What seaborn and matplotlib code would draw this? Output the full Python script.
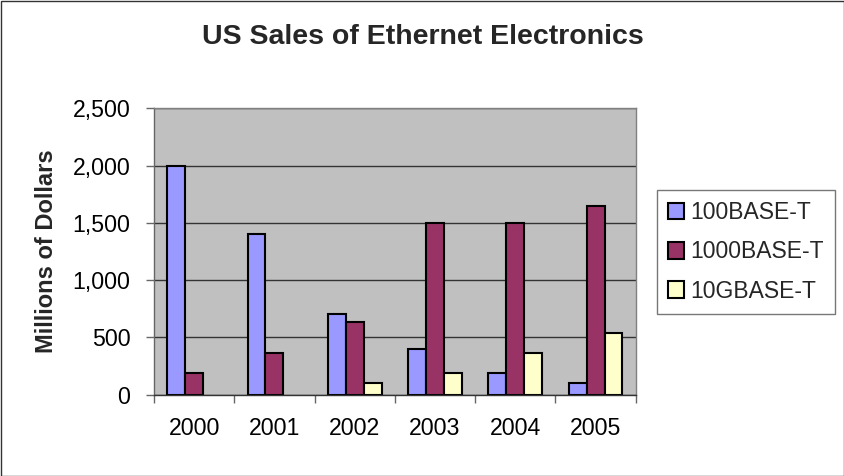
import matplotlib
matplotlib.use("Agg")
import matplotlib.pyplot as plt
import matplotlib.ticker as mticker
from matplotlib.patches import Rectangle
import seaborn as sns
import pandas as pd
import numpy as np

years = ["2000", "2001", "2002", "2003", "2004", "2005"]
series_names = ["100BASE-T", "1000BASE-T", "10GBASE-T"]
sales_100base = [2000, 1400, 700, 400, 190, 100]
sales_1000base = [190, 365, 630, 1500, 1500, 1650]
sales_10gbase = [None, None, 100, 190, 365, 540]
colors = ["#9999FF", "#993366", "#FFFFCC"]

rows = []
for name, vals in zip(series_names, [sales_100base, sales_1000base, sales_10gbase]):
    for y, v in zip(years, vals):
        rows.append({"Year": y, "Series": name, "Value": np.nan if v is None else v})
df = pd.DataFrame(rows)

sns.set_theme(style="white")
plt.rcParams["font.family"] = ["Liberation Sans", "DejaVu Sans"]

fig = plt.figure(figsize=(8.45, 4.76), dpi=100)
ax = fig.add_axes([154 / 845, 1 - 394.5 / 476, (635.7 - 154) / 845, (394.5 - 108.3) / 476])
ax.set_facecolor("#C0C0C0")

sns.barplot(data=df, x="Year", y="Value", hue="Series", hue_order=series_names,
            order=years, palette=colors,
            edgecolor="black", linewidth=1.5, width=0.67, saturation=1,
            ax=ax, legend=True)

ax.set_ylim(0, 2500)
ax.set_xlim(-0.5, 5.5)
ax.yaxis.set_major_locator(mticker.MultipleLocator(500))
ax.yaxis.set_major_formatter(mticker.FuncFormatter(lambda v, p: f"{int(v):,}"))
ax.set_axisbelow(True)
ax.yaxis.grid(True, color="#333333", linewidth=1)
ax.xaxis.grid(False)

ax.set_xticks(range(len(years)))
ax.set_xticklabels(years)
ax.set_xticks([i - 0.5 for i in range(len(years) + 1)], minor=True)
ax.tick_params(axis="x", which="major", length=0, labelsize=16.7, pad=16, colors="black")
ax.tick_params(axis="x", which="minor", length=6, width=1, color="#666666", direction="out", bottom=True)
ax.tick_params(axis="y", which="major", length=6, width=1, color="#666666", direction="out",
               left=True, labelsize=16.7, pad=11, labelcolor="black")

for side in ["top", "right"]:
    ax.spines[side].set_color("#808080")
    ax.spines[side].set_linewidth(1)
ax.spines["left"].set_color("#666666")
ax.spines["bottom"].set_color("#333333")
ax.spines["left"].set_linewidth(1)
ax.spines["bottom"].set_linewidth(1)

ax.set_xlabel("")
ax.set_ylabel("Millions of Dollars", fontsize=17, fontweight="bold")
ax.yaxis.set_label_coords((58 - 154) / (635.7 - 154), 0.5)

ax.get_legend().remove()
handles, labels = ax.get_legend_handles_labels()
leg = fig.legend(handles, labels, loc="upper left", bbox_to_anchor=(657 / 845, 1 - 190 / 476),
                 fontsize=16.5, frameon=True, fancybox=False, handlelength=0.7, handleheight=0.7,
                 handletextpad=0.25, borderpad=0.5, labelspacing=0.7, borderaxespad=0)
leg.get_frame().set_edgecolor("#555555")
leg.get_frame().set_linewidth(1)

fig.text(0.5, 1 - 44 / 476, "US Sales of Ethernet Electronics", ha="center", va="baseline",
         fontsize=20.5, fontweight="bold")

fig.patches.append(Rectangle((1.5 / 845, 0.5 / 476), 1 - 2.5 / 845, 1 - 1.5 / 476,
                             transform=fig.transFigure, fill=False, edgecolor="#333333", linewidth=1))

fig.savefig("out.png", dpi=100)
